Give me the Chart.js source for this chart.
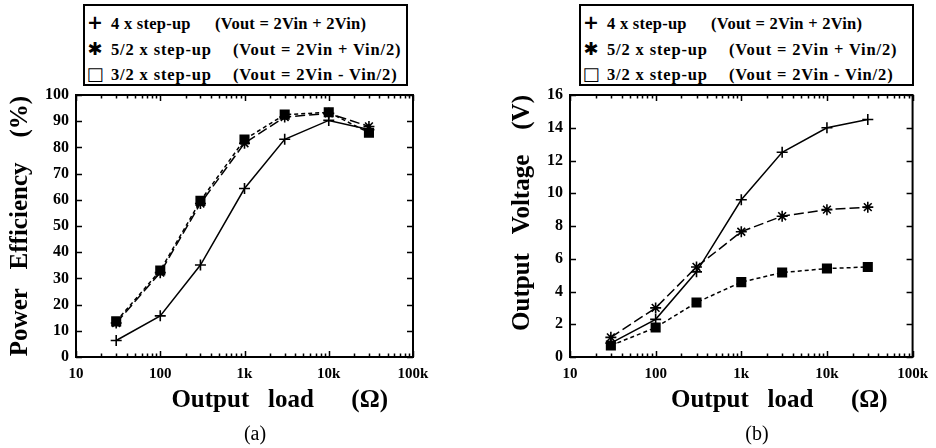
<!DOCTYPE html>
<html>
<head>
<meta charset="utf-8">
<script src="https://cdn.jsdelivr.net/npm/chart.js@4/dist/chart.umd.min.js"></script>
<style>
  html, body { margin: 0; padding: 0; background: #fff; }
  body { width: 936px; height: 448px; position: relative; overflow: hidden;
         font-family: 'Liberation Serif', 'Times New Roman', serif; }
  .panel { position: absolute; top: 0; width: 468px; height: 448px; }
  .legend { position: absolute; top: 4px; height: 82px; box-sizing: border-box;
            border: 2px solid #000; padding-top: 4px; background: #fff; }
  .row { height: 25.5px; line-height: 25.5px; white-space: nowrap; font-weight: bold;
         font-size: 16.5px; color: #000; }
  .mk { display: inline-block; width: 20px; margin-right: 6px; text-align: center; font-size: 18px;
        font-family: 'DejaVu Sans', sans-serif; letter-spacing: 0; }
  .mk.plus { font-weight: bold; font-size: 19px; }
  .nm { display: inline-block; }
  .cap { position: absolute; top: 421px; font-size: 20px; line-height: 24px; color: #000;
         width: 60px; text-align: center; }
</style>
</head>
<body>
<div class="panel" style="left:0"><canvas id="c1"></canvas></div>
<div class="panel" style="left:468px"><canvas id="c2"></canvas></div>
<div class="legend" id="lg1" style="left:83px;width:325px"></div>
<div class="legend" id="lg2" style="left:579px;width:335px"></div>
<div class="cap" style="left:225px">(a)</div>
<div class="cap" style="left:727px">(b)</div>
<script>
// ---------- data ----------
const loads = [30, 100, 300, 1000, 3000, 10000, 30000];           // Output load (Ω)
const seriesNames = [
  '4 x step-up  (Vout = 2Vin + 2Vin)',
  '5/2 x step-up  (Vout = 2Vin + Vin/2)',
  '3/2 x step-up  (Vout = 2Vin - Vin/2)'
];
// (a) Power efficiency (%)
const eff4x   = [6.3, 15.7, 35.1, 64.3, 83.1, 90.3, 86.8];
const eff52x  = [13.0, 32.2, 58.6, 81.6, 91.6, 93.0, 88.0];
const eff32x  = [13.6, 33.0, 59.6, 83.0, 92.5, 93.4, 85.6];
// (b) Output voltage (V)
const vout4x  = [0.85, 2.3, 5.2, 9.6, 12.5, 14.0, 14.5];
const vout52x = [1.2, 3.0, 5.5, 7.65, 8.6, 9.0, 9.15];
const vout32x = [0.7, 1.8, 3.33, 4.57, 5.16, 5.4, 5.5];
// tick labels
const xTickValues = [10, 100, 1000, 10000, 100000];
const xTickLabels = ['10', '100', '1k', '10k', '100k'];
const effTicks  = [0, 10, 20, 30, 40, 50, 60, 70, 80, 90, 100];
const voutTicks = [0, 2, 4, 6, 8, 10, 12, 14, 16];
// axis titles
const NB = '\u00a0';
const xTitle   = 'Output' + NB.repeat(3) + 'load' + NB.repeat(6) + '(Ω)' + NB.repeat(4);
const effTitle = 'Power' + NB.repeat(3) + 'Efficiency' + NB.repeat(4) + '(%)';
const voltTitle = 'Output' + NB.repeat(3) + 'Voltage' + NB.repeat(4) + '(V)';

// ---------- helpers ----------
const FONT = "'Liberation Serif', 'Times New Roman', serif";
Chart.defaults.font.family = FONT;
Chart.defaults.color = '#000';

const styles = [
  { pointStyle: 'cross', radius: 5.5, dash: [] },
  { pointStyle: 'star',  radius: 5.5, dash: [10, 4] },
  { pointStyle: 'rect',  radius: 6,   dash: [4, 3] }
];
const markChars = { cross: '+', star: '\u2731', rect: '\u25A1' };
// legend typography (name column width, letter spacing) per row
const legendLayout = [
  { nameW: 104, ls: 0.25 },
  { nameW: 122, ls: 0.85 },
  { nameW: 122, ls: 0.85 }
];

function makeDatasets(arrs) {
  return arrs.map((vals, i) => ({
    label: seriesNames[i],
    data: loads.map((x, j) => ({ x: x, y: vals[j] })),
    borderColor: '#000',
    backgroundColor: '#000',
    borderWidth: 1.5,
    borderDash: styles[i].dash,
    pointStyle: styles[i].pointStyle,
    pointRadius: styles[i].radius,
    pointHoverRadius: styles[i].radius,
    pointBorderWidth: 1.6,
    pointBorderColor: '#000',
    pointBackgroundColor: '#000',
    tension: 0,
    fill: false
  }));
}

function logMinorTicks() {
  const out = [];
  for (let d = 10; d < 100000; d *= 10) {
    for (let k = 1; k < 10; k++) out.push({ value: d * k, major: k === 1 });
  }
  out.push({ value: 100000, major: true });
  return out;
}

const framePlugin = {
  id: 'frame',
  beforeDatasetsDraw(chart) {
    const { ctx, chartArea: a, scales: { x, y } } = chart;
    ctx.save();
    ctx.strokeStyle = '#000';
    ctx.lineWidth = 1.5;
    ctx.setLineDash([]);
    ctx.beginPath();
    x.ticks.forEach(t => {
      const px = Math.round(x.getPixelForValue(t.value)) + 0.5;
      const len = t.major ? 6 : 3.5;
      ctx.moveTo(px, a.bottom); ctx.lineTo(px, a.bottom - len);
      ctx.moveTo(px, a.top); ctx.lineTo(px, a.top + len);
    });
    y.ticks.forEach(t => {
      const py = Math.round(y.getPixelForValue(t.value)) + 0.5;
      ctx.moveTo(a.left, py); ctx.lineTo(a.left + 6, py);
      ctx.moveTo(a.right, py); ctx.lineTo(a.right - 6, py);
    });
    ctx.stroke();
    ctx.lineWidth = 2;
    ctx.strokeRect(a.left, a.top, a.width, a.height);
    ctx.restore();
  }
};

function makeChart(id, arrs, yTicks, yTitle, yTitleAlign, yTitlePad, yWidth, padRight) {
  return new Chart(document.getElementById(id), {
    type: 'line',
    data: { datasets: makeDatasets(arrs) },
    plugins: [framePlugin],
    options: {
      responsive: true,
      maintainAspectRatio: false,
      animation: false,
      layout: { padding: { top: 95, right: padRight, left: 0, bottom: 0 } },
      plugins: { legend: { display: false }, tooltip: { enabled: false } },
      scales: {
        x: {
          type: 'logarithmic',
          min: xTickValues[0],
          max: xTickValues[xTickValues.length - 1],
          afterBuildTicks: s => { s.ticks = logMinorTicks(); },
          afterFit: s => { s.height = 91; },
          grid: { display: false, drawTicks: false },
          border: { display: false },
          ticks: {
            autoSkip: false, maxRotation: 0, padding: 8,
            font: { size: 15, weight: 'bold' },
            callback: v => {
              const i = xTickValues.indexOf(v);
              return i >= 0 ? xTickLabels[i] : '';
            }
          },
          title: {
            display: true, text: xTitle, align: 'end',
            font: { size: 25, weight: 'bold' },
            padding: { top: 0, bottom: 32 }
          }
        },
        y: {
          type: 'linear',
          min: yTicks[0],
          max: yTicks[yTicks.length - 1],
          afterBuildTicks: s => { s.ticks = yTicks.map(v => ({ value: v })); },
          afterFit: s => { s.width = yWidth; },
          grid: { display: false, drawTicks: false },
          border: { display: false },
          ticks: { padding: 7, font: { size: 16, weight: 'bold' } },
          title: {
            display: true, text: yTitle, align: yTitleAlign,
            font: { size: 25, weight: 'bold' },
            padding: { top: yTitlePad, bottom: 0 }
          }
        }
      }
    }
  });
}

const ch1 = makeChart('c1', [eff4x, eff52x, eff32x], effTicks, effTitle, 'center', 6, 76, 55);
const ch2 = makeChart('c2', [vout4x, vout52x, vout32x], voutTicks, voltTitle, 'end', 40, 102, 20);

function buildLegend(el, chart) {
  chart.data.datasets.forEach((ds, i) => {
    const parts = ds.label.split('  ');
    const row = document.createElement('div');
    row.className = 'row';
    row.style.letterSpacing = legendLayout[i].ls + 'px';
    const mk = document.createElement('span');
    mk.className = 'mk' + (ds.pointStyle === 'cross' ? ' plus' : '');
    mk.textContent = markChars[ds.pointStyle];
    const nm = document.createElement('span');
    nm.className = 'nm';
    nm.style.width = legendLayout[i].nameW + 'px';
    nm.textContent = parts[0];
    const fm = document.createElement('span');
    fm.textContent = parts[1];
    row.appendChild(mk);
    row.appendChild(nm);
    row.appendChild(fm);
    el.appendChild(row);
  });
}
buildLegend(document.getElementById('lg1'), ch1);
buildLegend(document.getElementById('lg2'), ch2);
</script>
</body>
</html>
